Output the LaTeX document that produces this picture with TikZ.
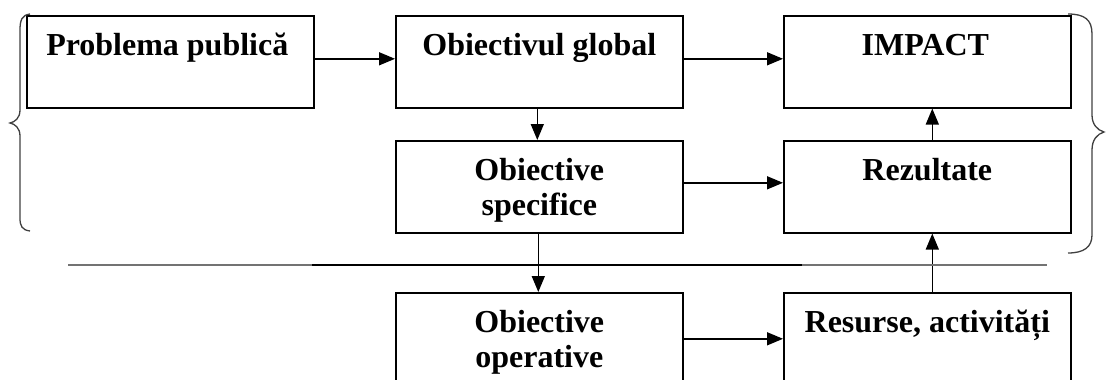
\documentclass[tikz,border=0pt]{standalone}
\usepackage{fontspec}
\setmainfont{Liberation Serif}
\usetikzlibrary{arrows.meta,calc}
\begin{document}
\begin{tikzpicture}[x=1pt,y=-1pt,
  box/.style={draw, line width=1.6pt, rectangle, minimum width=287pt,
              minimum height=92pt, inner sep=0pt, anchor=north west},
  lowbox/.style={box, minimum height=96pt},
  txt/.style={font=\fontsize{32}{35}\selectfont\bfseries, align=center,
              anchor=base, inner sep=0pt},
  conn/.style={line width=1.5pt, -{Triangle[length=16pt,width=13pt]}},
  brace/.style={line width=1.3pt, draw=black!75},
  rule/.style={line width=1.6pt}]
\useasboundingbox (0,0) rectangle (1106,380);
\clip (0,0) rectangle (1106,380);

% boxes
\node[box] (P) at (26,15) {};
\node[box] (G) at (395,15) {};
\node[box] (I) at (783,15) {};
\node[box] (S) at (395,140) {};
\node[box] (R) at (783,140) {};
\node[lowbox] (O) at (395,292) {};
\node[lowbox] (A) at (783,292) {};

% box titles (two-line titles sit on the baseline of their second line)
\node[txt] (tP) at ($(P.north)+(-3,40)$) {Problema publică};
\node[txt] (tG) at ($(G.north)+(0,40)$) {Obiectivul global};
\node[txt] (tI) at ($(I.north)+(-2,40)$) {IMPACT};
\node[txt] (tS) at ($(S.north)+(0,75)$) {Obiective\\specifice};
\node[txt] (tR) at ($(R.north)+(0,40)$) {Rezultate};
\node[txt] (tO) at ($(O.north)+(0,75)$) {Obiective\\operative};
\node[txt] (tA) at ($(A.north)+(0,40)$) {Resurse, activități};

% connectors
\draw[conn] ([yshift=3pt]P.east) -- ([yshift=3pt]G.west);
\draw[conn] ([yshift=3pt]G.east) -- ([yshift=3pt]I.west);
\draw[conn] ([xshift=-2pt]G.south) -- ([xshift=-2pt]S.north);
\draw[conn] ([yshift=4pt]S.east) -- ([yshift=4pt]R.west);
\draw[conn] ([xshift=-1pt]S.south) -- ([xshift=-1pt]O.north);
\draw[conn] ([yshift=2pt]O.east) -- ([yshift=2pt]A.west);
\draw[conn] ([xshift=5pt]A.north) -- ([xshift=5pt]R.south);
\draw[conn] ([xshift=5pt]R.north) -- ([xshift=5pt]I.south);

% dividing rule
\coordinate (l0) at (68,265);
\coordinate (l1) at (312,265);
\coordinate (l2) at (802,265);
\coordinate (l3) at (1047,265);
\draw[rule, black!55] (l0) -- (l1);
\draw[line width=1.2pt] (l1) -- (l2);
\draw[rule, black!55] (l2) -- (l3);

% left brace
\draw[brace] (30,14) .. controls (22,15) and (20,20) .. (20,30)
  -- (20,110) .. controls (20,118) and (15,122) .. (10,123)
  .. controls (15,124) and (20,128) .. (20,136)
  -- (20,218) .. controls (20,226) and (22,230) .. (30,231);

% right brace
\draw[brace] (1068,14) .. controls (1085,14) and (1092,20) .. (1092,34)
  -- (1092,115) .. controls (1092,124) and (1097,130) .. (1104,132)
  .. controls (1097,134) and (1092,140) .. (1092,150)
  -- (1092,235) .. controls (1092,247) and (1084,253) .. (1068,253);
\end{tikzpicture}
\end{document}
